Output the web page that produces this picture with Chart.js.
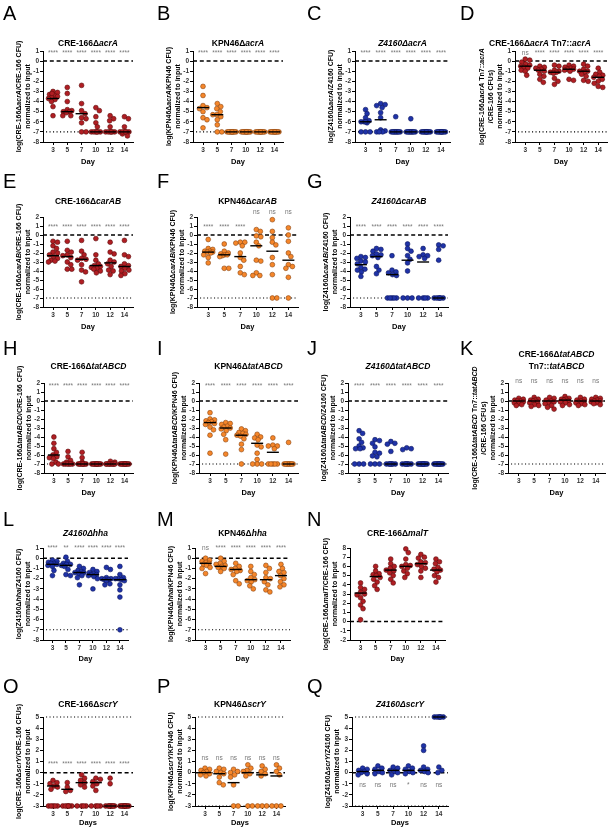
<!DOCTYPE html>
<html><head><meta charset="utf-8">
<script src="https://cdn.jsdelivr.net/npm/chart.js@4.4.0/dist/chart.umd.min.js"></script>
<style>
html,body{margin:0;padding:0;background:#fff;}
#wrap{position:relative;width:616px;height:832px;overflow:hidden;}
#wrap canvas{position:absolute;left:0;top:0;}
</style></head><body><div id="wrap"></div>
<script>
const days = [3, 5, 7, 10, 12, 14];

// A  CRE-166 acrA
const aVals = [[-3.0,-3.1,-3.3,-3.4,-3.5,-3.6,-3.7,-3.8,-4.0,-4.5,-5.4,-3.2],[-2.6,-3.2,-4.0,-4.8,-4.9,-5.0,-5.0,-5.1,-5.4,-5.4],[-2.4,-4.2,-4.9,-5.2,-5.6,-5.7,-6.1,-7,-7],[-4.6,-4.9,-5.5,-6.1,-6.5,-7,-7,-7,-7,-7,-7],[-5.4,-5.7,-5.9,-6.5,-7,-7,-7,-7,-7,-7],[-5.5,-5.7,-6.5,-7,-7,-7,-7,-7.2,-7.4,-7,-7]];
const aMed = [-3.7,-5.0,-5.2,-7,-7,-7];
const aSig = ['****','****','****','****','****','****'];
// B  KPN46 acrA
const bVals = [[-2.5,-3.4,-4.4,-4.6,-4.7,-5.0,-5.6,-5.8,-6.6],[-4.2,-4.5,-4.7,-5.0,-5.3,-5.3,-5.5,-5.8,-6.3,-7,-7],[-7,-7,-7,-7,-7,-7,-7,-7,-7,-7],[-7,-7,-7,-7,-7,-7,-7,-7,-7,-7],[-7,-7,-7,-7,-7,-7,-7,-7,-7,-7],[-7,-7,-7,-7,-7,-7,-7,-7,-7,-7]];
const bMed = [-4.6,-5.3,-7,-7,-7,-7];
const bSig = ['****','****','****','****','****','****'];
// C  Z4160 acrA
const cVals = [[-4.8,-5.2,-5.6,-5.9,-6.0,-6.0,-6.1,-6.0,-7,-7,-7],[-4.2,-4.3,-4.4,-4.6,-5.1,-5.6,-6.8,-6.9,-7,-7,-7],[-5.5,-7,-7,-7,-7,-7,-7,-7,-7,-7],[-5.7,-7,-7,-7,-7,-7,-7,-7,-7,-7],[-7,-7,-7,-7,-7,-7,-7,-7,-7,-7],[-7,-7,-7,-7,-7,-7,-7,-7,-7,-7]];
const cMed = [-6.0,-5.8,-7,-7,-7,-7];
const cSig = ['****','****','****','****','****','****'];
// D  CRE-166 acrA Tn7::acrA
const dVals = [[0.2,0.1,-0.1,-0.3,-0.4,-0.5,-0.6,-0.7,-0.9,-1.0,-1.4],[-0.5,-0.6,-0.7,-0.8,-0.9,-1.0,-1.3,-1.5,-1.8,-2.1],[-0.4,-0.5,-0.9,-1.0,-1.1,-1.1,-1.2,-1.7,-2.0,-2.3],[-0.4,-0.5,-0.6,-0.7,-0.8,-0.8,-0.9,-1.0,-1.8,-1.9],[-0.3,-0.5,-0.8,-1.0,-1.0,-1.1,-1.3,-1.5,-1.9,-2.0],[-0.7,-1.1,-1.3,-1.4,-1.5,-1.6,-1.8,-2.0,-2.2,-2.5,-2.6]];
const dMed = [-0.5,-0.9,-1.1,-0.8,-1.0,-1.6];
const dSig = ['ns','****','****','****','****','****'];
// E  CRE-166 carAB
const eVals = [[-0.7,-0.8,-1.2,-1.5,-1.9,-2.0,-2.2,-2.4,-2.6,-2.8,-2.9,-3.0],[-0.7,-1.7,-1.9,-2.2,-2.3,-2.5,-3.0,-3.3,-3.8,-3.8],[-0.6,-1.8,-2.2,-2.6,-2.7,-2.8,-3.3,-3.9,-4.1,-5.2],[-0.4,-2.2,-2.8,-3.2,-3.4,-3.5,-3.6,-3.7,-3.8,-4.0,-4.2],[-0.8,-1.9,-2.1,-2.8,-3.0,-3.2,-3.5,-3.9,-4.0,-4.4],[-0.6,-2.2,-2.4,-3.2,-3.4,-3.5,-3.7,-3.9,-4.0,-4.3,-4.5]];
const eMed = [-2.3,-2.4,-2.7,-3.4,-3.1,-3.5];
const eSig = ['****','****','****','****','****','****'];
// F  KPN46 carAB
const fVals = [[-0.5,-1.5,-1.6,-1.8,-1.8,-1.9,-1.9,-2.0,-2.2,-2.5,-3.1],[-1.0,-1.8,-2.0,-2.1,-2.2,-2.2,-2.3,-2.4,-3.7,-3.7],[-0.8,-0.8,-0.9,-1.2,-2.0,-2.5,-2.8,-3.5,-4.2,-4.4],[0.6,0.4,-0.1,-0.2,-0.8,-1.2,-2.8,-2.9,-4.2,-4.5,-4.5],[1.7,0.4,-0.3,-0.8,-1.1,-2.5,-3.3,-4.4,-7,-7],[0.8,0.0,-0.7,-2.0,-2.4,-3.3,-3.5,-3.7,-4.7,-7]];
const fMed = [-1.9,-2.2,-2.4,-1.2,-1.8,-2.8];
const fSig = ['****','****','****','ns','ns','ns'];
// G  Z4160 carAB
const gVals = [[-2.4,-2.5,-2.6,-2.9,-3.0,-3.2,-3.6,-3.8,-3.9,-4.1,-4.6],[-1.5,-1.6,-1.8,-2.1,-2.2,-2.3,-2.5,-3.5,-3.9,-4.3],[-2.3,-3.9,-4.1,-4.2,-4.4,-4.5,-7,-7,-7,-7,-7],[-1.0,-1.5,-1.8,-2.3,-2.7,-3.1,-4.0,-7,-7,-7],[-1.5,-2.2,-2.3,-2.4,-2.6,-7,-7,-7,-7],[-1.1,-1.2,-1.6,-2.8,-7,-7,-7,-7,-7,-7]];
const gMed = [-3.3,-2.4,-4.4,-2.8,-3.0,-7];
const gSig = ['****','****','****','****','****','****'];
// H  CRE-166 tatABCD
const hVals = [[-4.0,-4.7,-5.3,-5.7,-6.0,-6.2,-6.3,-6.4,-6.8,-7,-7],[-5.6,-6.2,-6.6,-6.8,-7,-7,-7,-7,-7,-7],[-5.7,-6.3,-6.8,-7,-7,-7,-7,-7,-7,-7,-7],[-7,-7,-7,-7,-7,-7,-7,-7,-7,-7],[-6.7,-6.8,-7,-7,-7,-7,-7,-7,-7,-7,-7],[-7,-7,-7,-7,-7,-7,-7,-7,-7,-7]];
const hMed = [-6.0,-7,-7,-7,-7,-7];
const hSig = ['****','****','****','****','****','****'];
// I  KPN46 tatABCD
const iVals = [[-1.3,-2.0,-2.1,-2.2,-2.3,-2.4,-2.5,-2.6,-2.9,-3.2,-3.8,-5.8],[-2.4,-2.5,-2.6,-2.8,-2.9,-3.0,-3.1,-3.3,-3.7,-4.3,-5.9],[-3.1,-3.3,-3.5,-3.6,-3.7,-3.8,-3.9,-4.2,-4.8,-5.4,-7],[-3.7,-4.0,-4.1,-4.3,-4.9,-5.1,-5.8,-6.5,-7,-7,-7],[-4.1,-4.9,-5.0,-5.0,-5.3,-7,-7,-7,-7,-7],[-4.6,-7,-7,-7,-7,-7,-7,-7,-7,-7]];
const iMed = [-2.4,-3.0,-3.8,-4.7,-5.7,-7];
const iSig = ['****','****','****','****','****','****'];
// J  Z4160 tatABCD
const jVals = [[-3.3,-3.6,-4.2,-4.6,-5.0,-5.2,-5.3,-5.3,-7,-7,-7],[-4.3,-4.4,-4.7,-5.1,-5.7,-5.8,-6.1,-6.2,-7,-7,-7],[-4.5,-4.7,-4.8,-5.6,-7,-7,-7,-7,-7,-7,-7],[-5.2,-5.3,-5.4,-7,-7,-7,-7,-7,-7,-7],[-7,-7,-7,-7,-7,-7,-7,-7,-7,-7],[-7,-7,-7,-7,-7,-7,-7,-7,-7,-7]];
const jMed = [null,null,-7,-7,-7,-7];
const jSig = ['****','****','****','****','****','****'];
// K  CRE-166 tatABCD Tn7::tatABCD
const kVals = [[0.3,0.2,0.1,0.0,0.0,-0.1,-0.2,-0.3,-0.4,-0.5],[0.4,0.2,0.1,0.1,0.0,-0.1,-0.2,-0.4,-0.5,-0.6],[0.4,0.3,0.1,0.0,-0.1,-0.2,-0.3,-0.5,-0.7,-0.9],[0.5,0.3,0.2,0.2,0.1,0.0,-0.1,-0.2,-0.4,-0.5],[0.4,0.2,0.1,0.0,-0.1,-0.1,-0.2,-0.3,-0.4,-0.5],[0.4,0.3,0.2,0.1,0.0,0.0,-0.1,-0.2,-0.3,-0.4]];
const kMed = [0.0,0.0,0.0,0.1,0.0,0.0];
const kSig = ['ns','ns','ns','ns','ns','ns'];
// L  Z4160 hha
const lVals = [[-0.2,-0.3,-0.4,-0.5,-0.5,-0.6,-0.7,-0.8,-1.2,-1.7],[0.1,-0.3,-0.5,-0.6,-0.6,-0.7,-0.8,-1.1,-1.6,-1.7],[-0.8,-1.0,-1.2,-1.3,-1.4,-1.4,-1.5,-1.7,-1.9,-2.6],[-1.1,-1.3,-1.4,-1.5,-1.6,-1.6,-1.7,-1.8,-2.0,-3.0],[-0.9,-1.1,-1.9,-2.0,-2.0,-2.1,-2.1,-2.2,-2.5,-2.6],[-0.8,-1.6,-1.9,-2.0,-2.0,-2.1,-2.2,-2.6,-3.1,-3.8,-7.0]];
const lMed = [-0.6,-0.7,-1.4,-1.6,-2.1,-2.1];
const lSig = ['****','**','****','****','****','****'];
// M  KPN46 hha
const mVals = [[0.0,-0.2,-0.3,-0.4,-0.5,-0.6,-0.7,-0.9,-1.0,-1.5],[0.0,-0.3,-0.5,-0.6,-0.7,-0.8,-0.9,-1.0,-1.3],[-0.5,-0.8,-1.0,-1.1,-1.2,-1.3,-1.6,-2.2,-2.5],[-0.8,-1.3,-1.6,-1.9,-2.1,-2.2,-2.3,-2.7,-3.0],[-0.7,-1.0,-1.4,-1.9,-2.0,-2.3,-2.6,-3.1,-3.3],[-0.6,-1.0,-1.3,-1.4,-1.7,-2.0,-2.3,-2.6,-2.8]];
const mMed = [-0.5,-0.8,-1.1,-2.1,-2.1,-1.7];
const mSig = ['ns','****','****','****','****','****'];
// N  CRE-166 malT
const nVals = [[4.2,3.7,3.5,3.2,3.0,2.9,2.6,2.2,1.8,1.4,0.2],[6.0,5.5,5.2,5.1,5.0,4.8,4.6,4.3,3.9,3.5],[6.8,6.3,6.0,5.8,5.6,5.5,5.3,5.0,4.6,4.2],[7.9,7.5,6.8,6.2,6.1,6.0,5.8,5.5,5.2,4.8],[7.3,7.0,6.9,6.5,6.4,6.2,6.0,5.8,5.5,4.8],[6.8,6.5,6.3,5.9,5.7,5.6,5.4,5.0,4.8,4.3]];
const nMed = [3.1,4.9,5.6,6.0,6.3,5.6];
const nSig = ['','','','','',''];
// O  CRE-166 scrY
const oVals = [[-0.7,-0.9,-1.0,-1.2,-1.3,-1.5,-3,-3,-3,-3,-3],[-0.9,-1.3,-1.6,-1.7,-3,-3,-3,-3,-3,-3],[-0.2,-0.5,-0.7,-0.9,-1.1,-1.3,-3,-3,-3,-3],[-0.5,-0.6,-0.8,-1.0,-1.2,-1.6,-3,-3,-3,-3],[-0.5,-1.0,-3,-3,-3,-3,-3,-3,-3,-3],[-3,-3,-3,-3,-3,-3,-3,-3,-3,-3]];
const oMed = [-1.2,-1.5,-0.9,-0.9,-3,-3];
const oSig = ['****','****','****','****','****','****'];
// P  KPN46 scrY
const pVals = [[0.4,0.3,0.2,0.1,0.0,-0.1,-0.2,-0.3],[0.4,0.3,0.1,0.0,-0.1,-0.4,-0.9,-1.1],[0.3,0.1,0.0,-0.2,-0.4,-1.1,-3,-3],[0.7,0.4,0.2,0.1,-0.1,-0.3,-3,-3],[0.6,0.3,0.1,-0.1,-0.3,-3,-3,-3],[0.7,0.4,0.1,-0.2,-3,-3,-3]];
const pMed = [0.0,-0.1,-0.9,0.0,-0.2,-0.3];
const pSig = ['ns','ns','ns','ns','ns','ns'];
// Q  Z4160 scrY
const qVals = [[0.4,0.3,0.2,0.1,0.0,-0.1,-0.2],[0.6,0.4,0.3,0.1,0.0,-0.1],[0.5,0.4,0.2,0.1,0.0,-0.2],[0.6,0.4,0.3,0.1,0.0,-0.1],[2.4,2.0,0.5,0.3,0.2,0.1,0.0],[5,5,5,5,5,5,0.5,0.2,0.0]];
const qMed = [0.1,0.2,0.2,0.2,0.2,5];
const qSig = ['ns','ns','ns','*','ns','ns'];

const RED = ['#b01e23', '#5c0a0a'];
const ORANGE = ['#f5862a', '#8c4510'];
const BLUE = ['#1f33a8', '#0c1560'];
const FONT = '"Liberation Sans", Arial, sans-serif';

const rows = [
  {T: 51, B: 142, titleY: 44, letterY: 20, dayY: 162},
  {T: 217, B: 307, titleY: 202, letterY: 188, dayY: 327},
  {T: 383, B: 473, titleY: 367, letterY: 355, dayY: 493},
  {T: 548, B: 640, titleY: 534, letterY: 526, dayY: 659},
  {T: 717, B: 806, titleY: 705, letterY: 693, dayY: 823}
];
const letterX = [3, 157, 307, 460];

const panels = [
  {id:'A', row:0, col:0, L:43, R:133, vals:aVals, med:aMed, sig:aSig, c:RED, y:[-8,1], sigY:0.75, dotted:[-7],
   title:['CRE-166Δ<i>acrA</i>'], yt:['log(CRE-166Δ<i>acrA</i>/CRE-166 CFU)','normalized to input']},
  {id:'B', row:0, col:1, L:193, R:283, vals:bVals, med:bMed, sig:bSig, c:ORANGE, y:[-8,1], sigY:0.75, dotted:[-7],
   title:['KPN46Δ<i>acrA</i>'], yt:['log(KPN46Δ<i>acrA</i>/KPN46 CFU)','normalized to input']},
  {id:'C', row:0, col:2, L:355, R:450, vals:cVals, med:cMed, sig:cSig, c:BLUE, y:[-8,1], sigY:0.75, dotted:[-7],
   title:['<i>Z4160ΔacrA</i>'], yt:['log(Z4160Δ<i>acrA</i>/Z4160 CFU)','normalized to input']},
  {id:'D', row:0, col:3, L:515, R:607, tx:540, vals:dVals, med:dMed, sig:dSig, c:RED, y:[-8,1], sigY:0.75, dotted:[-7],
   title:['CRE-166Δ<i>acrA</i> Tn7::<i>acrA</i>'], yt:['log(CRE-166Δ<i>acrA</i> Tn7::<i>acrA</i>','/CRE-166 CFUs)','normalized to input']},
  {id:'E', row:1, col:0, L:43, R:133, vals:eVals, med:eMed, sig:eSig, c:RED, y:[-8,2], sigY:0.9, dotted:[-7],
   title:['CRE-166Δ<i>carAB</i>'], yt:['log(CRE-166Δ<i>carAB</i>/CRE-166 CFU)','normalized to input']},
  {id:'F', row:1, col:1, L:197, R:298, vals:fVals, med:fMed, sig:fSig, c:ORANGE, y:[-8,2], sigY:0.9, nsY:2.5, dotted:[-7],
   title:['KPN46Δ<i>carAB</i>'], yt:['log(KPN46Δ<i>carAB</i>/KPN46 CFU)','normalized to input']},
  {id:'G', row:1, col:2, L:350, R:448, vals:gVals, med:gMed, sig:gSig, c:BLUE, y:[-8,2], sigY:0.9, dotted:[-7],
   title:['<i>Z4160ΔcarAB</i>'], yt:['log(Z4160Δ<i>carAB</i>/Z4160 CFU)','normalized to input']},
  {id:'H', row:2, col:0, L:44, R:133, vals:hVals, med:hMed, sig:hSig, c:RED, y:[-8,2], sigY:1.6, dotted:[-7],
   title:['CRE-166Δ<i>tatABCD</i>'], yt:['log(CRE-166Δ<i>tatABCD</i>/CRE-166 CFU)','normalized to input']},
  {id:'I', row:2, col:1, L:199, R:298, vals:iVals, med:iMed, sig:iSig, c:ORANGE, y:[-8,2], sigY:1.6, dotted:[-7],
   title:['KPN46Δ<i>tatABCD</i>'], yt:['log(KPN46Δ<i>tatABCD</i>/KPN46 CFU)','normalized to input']},
  {id:'J', row:2, col:2, L:348, R:448, vals:jVals, med:jMed, sig:jSig, c:BLUE, y:[-8,2], sigY:1.6, dotted:[-7],
   title:['<i>Z4160ΔtatABCD</i>'], yt:['log(Z4160Δ<i>tatABCD</i>/Z4160 CFU)','normalized to input']},
  {id:'K', row:2, col:3, L:508, R:605, vals:kVals, med:kMed, sig:kSig, c:RED, y:[-8,2], sigY:2.15, dotted:[-7],
   title:['CRE-166Δ<i>tatABCD</i>','Tn7::<i>tatABCD</i>'], yt:['log(CRE-166Δ<i>tatABCD</i> Tn7::<i>tatABCD</i>','/CRE-166 CFUs)','normalized to input']},
  {id:'L', row:3, col:0, L:43, R:128, vals:lVals, med:lMed, sig:lSig, c:BLUE, y:[-8,1], sigY:0.95, dotted:[-7],
   title:['<i>Z4160Δhha</i>'], yt:['log(Z4160Δ<i>hha</i>/Z4160 CFU)','normalized to input']},
  {id:'M', row:3, col:1, L:195, R:290, vals:mVals, med:mMed, sig:mSig, c:ORANGE, y:[-8,1], sigY:0.95, dotted:[-7],
   title:['KPN46Δ<i>hha</i>'], yt:['log(KPN46Δ<i>hha</i>/KPN46 CFU)','normalized to input']},
  {id:'N', row:3, col:2, L:350, R:445, vals:nVals, med:nMed, sig:nSig, c:RED, y:[-2,8], sigY:8, dotted:[],
   title:['CRE-166Δ<i>malT</i>'], yt:['log(CRE-166Δ<i>malT</i>/CRE-166 CFU)','normalized to input']},
  {id:'O', row:4, col:0, L:43, R:133, vals:oVals, med:oMed, sig:oSig, c:RED, y:[-3,5], sigY:0.8, dotted:[-3,5], xl:'Days',
   title:['CRE-166Δ<i>scrY</i>'], yt:['log(CRE-166Δ<i>scrY</i>/CRE-166 CFUs)','normalized to input']},
  {id:'P', row:4, col:1, L:195, R:285, vals:pVals, med:pMed, sig:pSig, c:ORANGE, y:[-3,5], sigY:1.3, dotted:[-3,5], xl:'Days',
   title:['KPN46Δ<i>scrY</i>'], yt:['log(KPN46Δ<i>scrY</i>/KPN46 CFU)','normalized to input']},
  {id:'Q', row:4, col:2, L:352, R:448, vals:qVals, med:qMed, sig:qSig, c:BLUE, y:[-3,5], sigY:-1.1, dotted:[-3,5], xl:'Days',
   title:['<i>Z4160ΔscrY</i>'], yt:['log(Z4160Δ<i>scrY</i>/Z4160 CFU)','normalized to input']}
];

// draw text with <i>..</i> parts
function rich(ctx, str, x, y, size, bold, align) {
  const segs = [];
  let it = false;
  str.split(/(<i>|<\/i>)/).forEach(s => {
    if (s === '<i>') { it = true; return; }
    if (s === '</i>') { it = false; return; }
    if (s) segs.push([s, it]);
  });
  const fnt = i => (i ? 'italic ' : '') + (bold ? 'bold ' : '') + size + 'px ' + FONT;
  let w = 0;
  segs.forEach(([s, i]) => { ctx.font = fnt(i); w += ctx.measureText(s).width; });
  let cx = align === 'center' ? x - w / 2 : x;
  ctx.textBaseline = align === 'center' ? 'middle' : 'alphabetic';
  ctx.textAlign = 'left';
  segs.forEach(([s, i]) => { ctx.font = fnt(i); ctx.fillText(s, cx, y); cx += ctx.measureText(s).width; });
}

// spread points of a group sideways so they don't pile up
function swarm(vals, xPx, yPx) {
  const out = [];
  const SEP = 4.3, HALF = 4.5;
  const cands = [0];
  for (let k = 0.5; k <= HALF; k += 0.5) cands.push(k, -k);
  vals.forEach((grp, i) => {
    const placed = [];
    grp.forEach(v => {
      const py = v * yPx;
      let best = 0, bestD = -1;
      for (const dx of cands) {
        let md = Infinity;
        placed.forEach(p => { md = Math.min(md, Math.hypot(dx - p[0], py - p[1])); });
        if (md >= SEP) { best = dx; bestD = md; break; }
        if (md > bestD + 0.01) { bestD = md; best = dx; }
      }
      placed.push([best, py]);
      out.push({x: i + best / xPx, y: v});
    });
  });
  return out;
}

const wrap = document.getElementById('wrap');
const XMIN = -0.7, XMAX = 5.6, YW = 12, XH = 12;

panels.forEach(p => {
  const r = rows[p.row];
  const cv = document.createElement('canvas');
  cv.width = 616; cv.height = 832;
  wrap.appendChild(cv);
  const xPx = (p.R - p.L) / (XMAX - XMIN);
  const yPx = (r.B - r.T) / (p.y[1] - p.y[0]);

  const decor = {
    id: 'decor' + p.id,
    beforeDatasetsDraw(chart) {
      const ctx = chart.ctx, a = chart.chartArea, ys = chart.scales.y;
      ctx.save();
      ctx.strokeStyle = '#000';
      ctx.lineWidth = 1.5;
      ctx.setLineDash([4, 2.8]);
      let y0 = ys.getPixelForValue(0);
      ctx.beginPath(); ctx.moveTo(a.left, y0); ctx.lineTo(a.right, y0); ctx.stroke();
      ctx.lineWidth = 1.1;
      ctx.setLineDash([1.1, 2.4]);
      p.dotted.forEach(v => {
        const yy = ys.getPixelForValue(v);
        ctx.beginPath(); ctx.moveTo(a.left + 3, yy); ctx.lineTo(a.right, yy); ctx.stroke();
      });
      ctx.restore();
    },
    afterDatasetsDraw(chart) {
      const ctx = chart.ctx, a = chart.chartArea, xs = chart.scales.x, ys = chart.scales.y;
      ctx.save();
      ctx.strokeStyle = '#000';
      ctx.lineWidth = 1.4;
      p.med.forEach((m, i) => {
        if (m === null) return;
        const x = xs.getPixelForValue(i), y = ys.getPixelForValue(m);
        ctx.beginPath(); ctx.moveTo(x - 6, y); ctx.lineTo(x + 6, y); ctx.stroke();
      });
      // significance marks
      ctx.fillStyle = '#777';
      ctx.font = '6.5px ' + FONT;
      ctx.textAlign = 'center';
      ctx.textBaseline = 'middle';
      p.sig.forEach((s, i) => {
        if (!s) return;
        const yv = (s === 'ns' && p.nsY !== undefined) ? p.nsY : p.sigY;
        ctx.fillText(s, xs.getPixelForValue(i), ys.getPixelForValue(yv));
      });
      // titles and labels
      ctx.fillStyle = '#000';
      const cx = (a.left + a.right) / 2;
      const tl = p.title.length;
      p.title.forEach((t, k) => rich(ctx, t, p.tx || cx, r.titleY - (tl - 1 - k) * 12.5, 8.5, true, 'center'));
      const cy = (a.top + a.bottom) / 2;
      const n = p.yt.length;
      p.yt.forEach((t, k) => {
        ctx.save();
        ctx.translate(a.left - 15 - (n - 1 - k) * 9, cy);
        ctx.rotate(-Math.PI / 2);
        rich(ctx, t, 0, 0, 7, true, 'center');
        ctx.restore();
      });
      rich(ctx, p.xl || 'Day', cx, r.dayY, 7.5, true, 'center');
      ctx.font = '20px ' + FONT;
      ctx.textAlign = 'left';
      ctx.textBaseline = 'alphabetic';
      ctx.fillText(p.id, letterX[p.col], r.letterY);
      ctx.restore();
    }
  };

  const tickFont = {family: FONT, size: 6.5, weight: 'bold'};
  new Chart(cv, {
    type: 'scatter',
    data: {datasets: [{
      data: swarm(p.vals, xPx, yPx),
      pointRadius: 2.4,
      pointBackgroundColor: p.c[0],
      pointBorderColor: p.c[1],
      pointBorderWidth: 0.6,
      clip: false
    }]},
    options: {
      responsive: false, animation: false, devicePixelRatio: 1, events: [],
      layout: {padding: {left: p.L - YW, top: r.T, right: 616 - p.R, bottom: 832 - r.B - XH}},
      plugins: {legend: {display: false}, tooltip: {enabled: false}},
      scales: {
        x: {
          type: 'linear', min: XMIN, max: XMAX,
          afterFit: s => { s.height = XH; },
          afterBuildTicks: s => { s.ticks = days.map((d, i) => ({value: i})); },
          ticks: {callback: v => days[v], font: tickFont, color: '#333', padding: 1, maxRotation: 0, autoSkip: false},
          grid: {display: true, drawOnChartArea: false, tickLength: 3, color: '#000'},
          border: {color: '#000', width: 1}
        },
        y: {
          min: p.y[0], max: p.y[1],
          afterFit: s => { s.width = YW; },
          ticks: {stepSize: 1, font: tickFont, color: '#333', padding: 1, autoSkip: false},
          grid: {display: true, drawOnChartArea: false, tickLength: 3, color: '#000'},
          border: {color: '#000', width: 1}
        }
      }
    },
    plugins: [decor]
  });
});
</script>
</body></html>
